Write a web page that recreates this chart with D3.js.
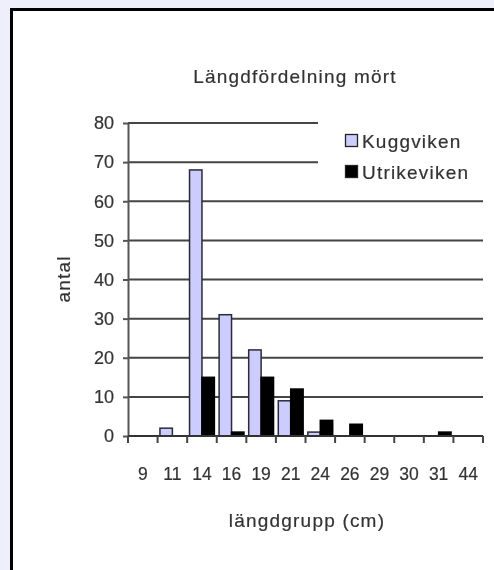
<!DOCTYPE html>
<html>
<head>
<meta charset="utf-8">
<script src="https://cdn.jsdelivr.net/npm/d3@7"></script>
<style>
  html, body { margin: 0; padding: 0; background: #efeffb; }
  svg { display: block; }
  text { font-family: "Liberation Sans", Arial, sans-serif; fill: #333; stroke: #333; stroke-width: 0.2px; }
</style>
</head>
<body>
<svg id="chart" width="494" height="570"></svg>
<script>
// Length groups (cm) and catch counts per bay
const groups = ["9", "11", "14", "16", "19", "21", "24", "26", "29", "30", "31", "44"];
const kuggviken = [0, 2, 68, 31, 22, 9, 1, 0, 0, 0, 0, 0];
const utrikeviken = [0, 0, 15, 1, 15, 12, 4, 3, 0, 0, 1, 0];
const seriesNames = ["Kuggviken", "Utrikeviken"];
const seriesColors = ["#ccccff", "#000000"];
const yTicks = [0, 10, 20, 30, 40, 50, 60, 70, 80];

const svg = d3.select("#chart");

// outer frame
svg.append("rect").attr("x", 11.5).attr("y", 9.5).attr("width", 600).attr("height", 700)
  .attr("fill", "#ffffff").attr("stroke", "#000").attr("stroke-width", 3);

const defs = svg.append("defs");
defs.append("filter").attr("id", "soft").attr("x", "-5%").attr("y", "-5%").attr("width", "110%").attr("height", "110%")
  .append("feGaussianBlur").attr("stdDeviation", 0.6);

const g = svg.append("g").attr("filter", "url(#soft)");

const plot = { left: 128, right: 483, top: 123, bottom: 436 };

const x = d3.scaleBand().domain(groups).range([plot.left, plot.right]).padding(0);
const y = d3.scaleLinear().domain([0, 80]).range([plot.bottom, plot.top]);
const inner = d3.scaleBand().domain(seriesNames).range([0, x.bandwidth() * 0.84]).padding(0);
const groupOffset = x.bandwidth() * 0.08;

// gridlines
g.append("g").selectAll("line").data(yTicks).join("line")
  .attr("x1", plot.left).attr("x2", plot.right)
  .attr("y1", d => y(d)).attr("y2", d => y(d))
  .attr("stroke", "#444").attr("stroke-width", 2);

// legend box (covers gridlines behind it)
const legend = g.append("g");
legend.append("rect").attr("x", 318).attr("y", 112).attr("width", 170).attr("height", 78).attr("fill", "#fff");
seriesNames.forEach((name, i) => {
  const ly = 141 + i * 31;
  legend.append("rect").attr("x", 345.5).attr("y", ly - 6.5).attr("width", 12).attr("height", 12)
    .attr("fill", seriesColors[i]).attr("stroke", "#222").attr("stroke-width", 1.3);
  legend.append("text").attr("x", 362).attr("y", ly).attr("dy", "0.36em")
    .attr("font-size", 19).attr("letter-spacing", 1.2).text(name);
});

// bars
const values = [kuggviken, utrikeviken];
seriesNames.forEach((name, si) => {
  g.append("g").selectAll("rect").data(groups).join("rect")
    .attr("x", (d) => x(d) + groupOffset + inner(name))
    .attr("width", inner.bandwidth())
    .attr("y", (d, i) => y(values[si][i]))
    .attr("height", (d, i) => plot.bottom - y(values[si][i]))
    .attr("fill", seriesColors[si])
    .attr("stroke", si === 0 ? "#2a2a3a" : "#000")
    .attr("stroke-width", 1.5);
});

// y axis
const yAxis = g.append("g").attr("transform", `translate(${plot.left},0)`)
  .call(d3.axisLeft(y).tickValues(yTicks).tickSize(5).tickPadding(9).tickSizeOuter(0));
yAxis.select(".domain").attr("stroke", "#555").attr("stroke-width", 2);
yAxis.selectAll(".tick line").attr("stroke", "#555").attr("stroke-width", 2);
yAxis.selectAll("text").attr("font-size", 18).attr("fill", "#333").attr("font-family", null);

// x axis line and category boundary ticks
g.append("line").attr("x1", plot.left).attr("x2", plot.right)
  .attr("y1", plot.bottom).attr("y2", plot.bottom).attr("stroke", "#333").attr("stroke-width", 2);
const edges = groups.map(d => x(d)).concat([x(groups[groups.length - 1]) + x.bandwidth()]);
g.append("g").selectAll("line").data(edges).join("line")
  .attr("x1", d => d).attr("x2", d => d)
  .attr("y1", plot.bottom).attr("y2", plot.bottom + 7)
  .attr("stroke", "#444").attr("stroke-width", 2);

const xAxis = g.append("g").attr("transform", `translate(0,${plot.bottom})`)
  .call(d3.axisBottom(x).tickSize(0).tickPadding(32));
xAxis.select(".domain").remove();
xAxis.selectAll("text").attr("font-size", 17.5).attr("fill", "#333").attr("font-family", null);

// titles
g.append("text").attr("x", 295).attr("y", 76).attr("dy", "0.35em").attr("text-anchor", "middle")
  .attr("font-size", 19).attr("letter-spacing", 1.2).text("Längdfördelning mört");
g.append("text").attr("x", 307).attr("y", 520).attr("dy", "0.35em").attr("text-anchor", "middle")
  .attr("font-size", 19).attr("letter-spacing", 1.2).text("längdgrupp (cm)");
g.append("text").attr("transform", "translate(63,279) rotate(-90)").attr("dy", "0.35em")
  .attr("text-anchor", "middle").attr("font-size", 19).attr("letter-spacing", 1.2).text("antal");
</script>
</body>
</html>
